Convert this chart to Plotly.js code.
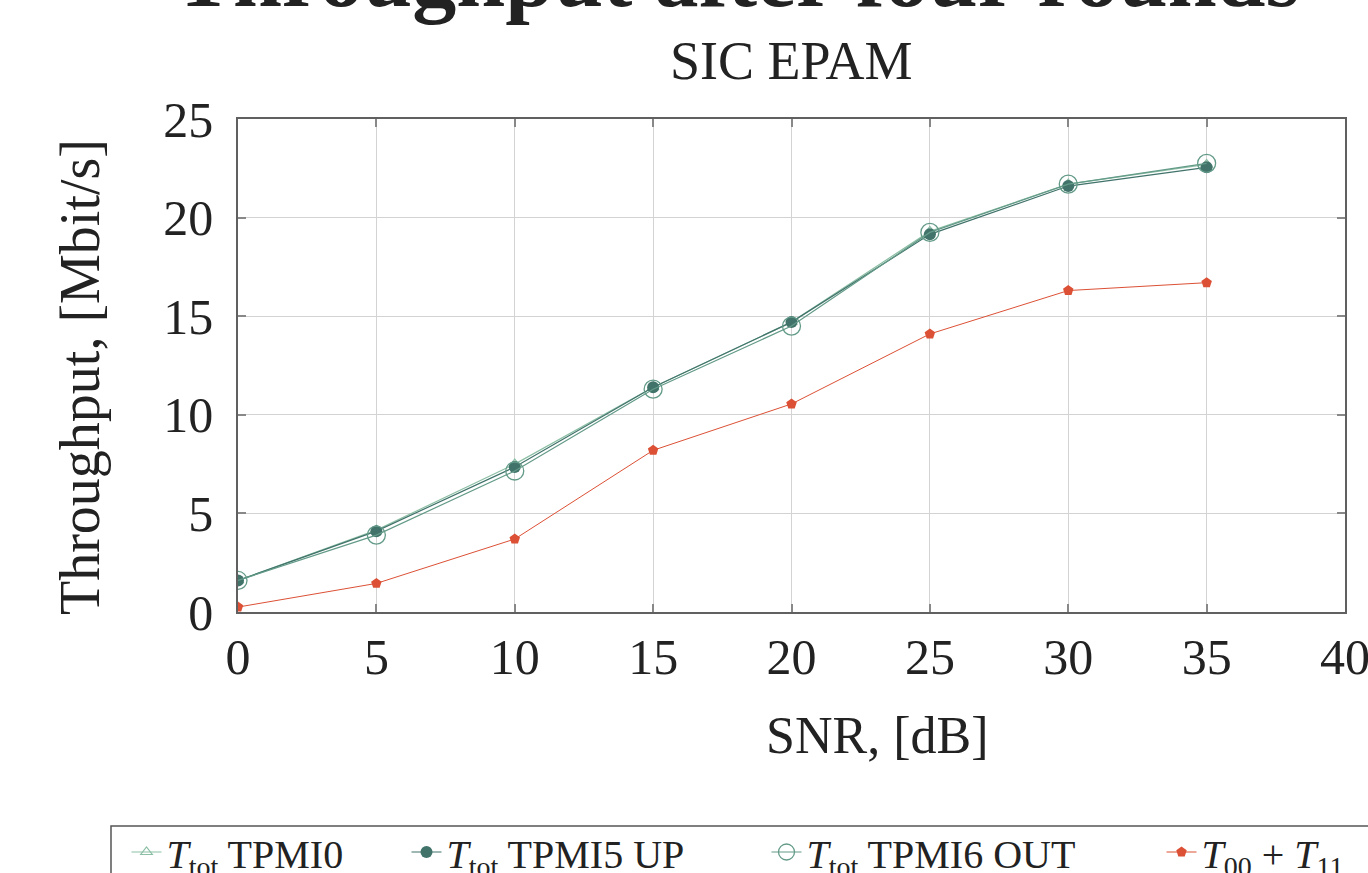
<!DOCTYPE html>
<html>
<head>
<meta charset="utf-8">
<script src="https://cdn.plot.ly/plotly-3.0.1.min.js"></script>
<style>
  html, body { margin: 0; padding: 0; background: #fff; }
  #chart { width: 1368px; height: 873px; }
</style>
</head>
<body>
<div id="chart"></div>
<script>
// ---- data ----
var snr = [0, 5, 10, 15, 20, 25, 30, 35];
var tpmi0 = [1.6, 4.15, 7.5, 11.4, 14.7, 19.3, 21.7, 22.7];
var tpmi5up = [1.6, 4.1, 7.35, 11.4, 14.7, 19.15, 21.6, 22.55];
var tpmi6out = [1.6, 3.9, 7.15, 11.3, 14.5, 19.25, 21.7, 22.75];
var t00t11 = [0.25, 1.45, 3.7, 8.2, 10.55, 14.1, 16.3, 16.7];

var seriesNames = [
  '<i>T</i><sub>tot</sub> TPMI0',
  '<i>T</i><sub>tot</sub> TPMI5 UP',
  '<i>T</i><sub>tot</sub> TPMI6 OUT',
  '<i>T</i><sub>00</sub> + <i>T</i><sub>11</sub>'
];
var xTickVals = [0, 5, 10, 15, 20, 25, 30, 35, 40];
var yTickVals = [0, 5, 10, 15, 20, 25];

var FONT = 'Liberation Serif, Times New Roman, serif';
var TXT = '#222222';

var traces = [
  {
    x: snr, y: tpmi0, name: seriesNames[0], type: 'scatter', mode: 'lines+markers',
    line: {color: '#8cbfa5', width: 1.2},
    marker: {symbol: 'triangle-up-open', size: 10, color: '#8cbfa5', line: {width: 1.2, color: '#8cbfa5'}},
    legendwidth: 235
  },
  {
    x: snr, y: tpmi5up, name: seriesNames[1], type: 'scatter', mode: 'lines+markers',
    line: {color: '#41736b', width: 1.2},
    marker: {symbol: 'circle', size: 12, color: '#41736b'},
    legendwidth: 315
  },
  {
    x: snr, y: tpmi6out, name: seriesNames[2], type: 'scatter', mode: 'lines+markers',
    line: {color: '#639a88', width: 1.2},
    marker: {symbol: 'circle-open', size: 18, color: '#639a88', line: {width: 1.3, color: '#639a88'}},
    legendwidth: 350
  },
  {
    x: snr, y: t00t11, name: seriesNames[3], type: 'scatter', mode: 'lines+markers',
    line: {color: '#dc5035', width: 1},
    marker: {symbol: 'pentagon', size: 11, color: '#dc5035'},
    legendwidth: 200
  }
];

var W = 1368, H = 873;
var L = 238, R = 23, T = 119, B = 261;
var pw = W - L - R, ph = H - T - B;
function px2x(p) { return (p - L) / pw; }
function px2y(p) { return (T + ph - p) / ph; }

var layout = {
  width: W, height: H,
  margin: {l: L, r: R, t: T, b: B, autoexpand: false},
  paper_bgcolor: '#ffffff', plot_bgcolor: '#ffffff',
  font: {family: FONT, color: TXT, size: 50},
  showlegend: true,
  title: {
    text: '<b>Throughput after four rounds</b>',
    font: {family: FONT, size: 88, color: TXT},
    xref: 'paper', x: px2x(737), xanchor: 'center',
    yref: 'container', y: 1 - 6 / H, yanchor: 'bottom'
  },
  xaxis: {
    range: [0, 40], tickvals: xTickVals, ticktext: xTickVals.map(String),
    showgrid: true, gridcolor: '#d3d3d3', gridwidth: 1.2, zeroline: false,
    showline: true, linecolor: '#606060', linewidth: 1.6, mirror: 'ticks',
    ticks: 'inside', ticklen: 8, tickwidth: 1.5, tickcolor: '#888888',
    tickfont: {family: FONT, size: 50, color: TXT}, ticklabelstandoff: 0,
    ticklabeloverflow: 'allow'
  },
  yaxis: {
    range: [0, 25], tickvals: yTickVals, ticktext: yTickVals.map(String),
    showgrid: true, gridcolor: '#d3d3d3', gridwidth: 1.2, zeroline: false,
    showline: true, linecolor: '#606060', linewidth: 1.6, mirror: 'ticks',
    ticks: 'inside', ticklen: 8, tickwidth: 1.5, tickcolor: '#888888',
    tickfont: {family: FONT, size: 50, color: TXT}, ticklabelstandoff: 13
  },
  legend: {
    orientation: 'h',
    xref: 'paper', yref: 'paper',
    x: px2x(125), xanchor: 'left',
    y: px2y(818), yanchor: 'top',
    bgcolor: 'rgba(0,0,0,0)', bordercolor: 'rgba(0,0,0,0)', borderwidth: 1.5,
    font: {family: FONT, size: 40, color: TXT},
    itemsizing: 'trace', valign: 'middle'
  },
  shapes: [
    {
      type: 'rect', xref: 'paper', yref: 'paper',
      x0: px2x(111), x1: px2x(1420), y0: px2y(826), y1: px2y(900),
      line: {color: '#555555', width: 1.5}, fillcolor: 'rgba(0,0,0,0)', layer: 'above'
    }
  ],
  annotations: [
    {
      text: 'SIC EPAM', xref: 'paper', yref: 'paper',
      x: 0.5, xanchor: 'center', y: px2y(61), yanchor: 'middle',
      showarrow: false, font: {family: FONT, size: 54, color: TXT}
    },
    {
      text: 'SNR, [dB]', xref: 'paper', yref: 'paper',
      x: px2x(877), xanchor: 'center', y: px2y(735), yanchor: 'middle',
      showarrow: false, font: {family: FONT, size: 52, color: TXT}
    },
    {
      text: 'Throughput, [Mbit/s]', xref: 'paper', yref: 'paper',
      x: px2x(80), xanchor: 'center', y: px2y(377), yanchor: 'middle',
      textangle: -90,
      showarrow: false, font: {family: FONT, size: 56, color: TXT}
    }
  ]
};

Plotly.newPlot('chart', traces, layout, {displayModeBar: false, responsive: false});
</script>
</body>
</html>
